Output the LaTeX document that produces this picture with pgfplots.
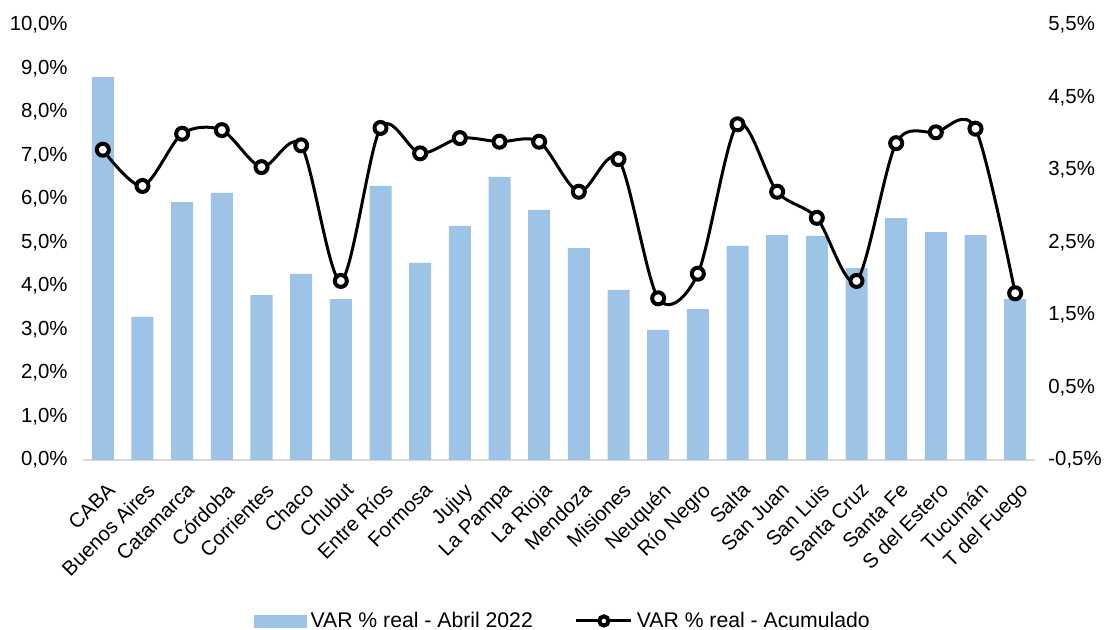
\documentclass[border=0pt]{standalone}
\usepackage{fontspec}
\setmainfont{Liberation Sans}
\usepackage{pgfplots}
\pgfplotsset{compat=1.18}
\definecolor{barblue}{RGB}{157,195,230}
\definecolor{axgray}{RGB}{217,217,217}
\pgfplotsset{
  mylineleg/.style={legend image code/.code={\draw[mark repeat=2,mark phase=2,##1, mark size=2.3pt] plot coordinates {(0pt,0pt) (13.75pt,0pt) (27.5pt,0pt)};}},
  mybarleg/.style={legend image code/.code={\fill[barblue] (0pt,-3pt) rectangle (26pt,3pt);}}
}
\pgfplotstableread{
x bar line
0 8.80 3.78
1 3.29 3.28
2 5.93 4.00
3 6.14 4.05
4 3.79 3.54
5 4.28 3.84
6 3.70 1.97
7 6.30 4.08
8 4.53 3.73
9 5.38 3.94
10 6.51 3.89
11 5.75 3.89
12 4.87 3.20
13 3.91 3.65
14 2.99 1.73
15 3.47 2.07
16 4.92 4.13
17 5.17 3.20
18 5.15 2.84
19 4.41 1.97
20 5.56 3.87
21 5.24 4.02
22 5.17 4.07
23 3.70 1.80
}\datatable
\begin{document}
\fontsize{10}{12}\selectfont
\begin{tikzpicture}
\begin{axis}[
  scale only axis, width=476pt, height=217.5pt,
  at={(0pt,0pt)}, anchor=south west,
  xmin=-0.5, xmax=23.5, ymin=0, ymax=10,
  axis y line*=left, axis x line*=bottom,
  y axis line style={draw=none},
  x axis line style={draw=axgray, line width=0.75pt, -},
  tick style={draw=none}, major tick length=0pt,
  ytick={0,1,2,3,4,5,6,7,8,9,10},
  yticklabels={{0,0\%},{1,0\%},{2,0\%},{3,0\%},{4,0\%},{5,0\%},{6,0\%},{7,0\%},{8,0\%},{9,0\%},{10,0\%}},
  yticklabel style={font=\fontsize{10.2}{12}\selectfont, inner sep=0pt, xshift=-7.5pt},
  xtick={0,...,23},
  xticklabels={CABA,Buenos Aires,Catamarca,Córdoba,Corrientes,Chaco,Chubut,Entre Ríos,Formosa,Jujuy,La Pampa,La Rioja,Mendoza,Misiones,Neuquén,Río Negro,Salta,San Juan,San Luis,Santa Cruz,Santa Fe,S del Estero,Tucumán,T del Fuego},
  xticklabel style={font=\fontsize{10.2}{12}\selectfont, rotate=45, anchor=north east, inner sep=0pt, xshift=-6.2pt, yshift=-8.5pt},
]
\addplot[ybar, bar width=11pt, fill=barblue, draw=none] table[x=x, y=bar] {\datatable};
\end{axis}
\begin{axis}[
  scale only axis, width=476pt, height=217.5pt,
  at={(0pt,0pt)}, anchor=south west,
  xmin=-0.5, xmax=23.5, ymin=-0.5, ymax=5.5,
  axis y line*=right, axis x line=none,
  y axis line style={draw=none},
  tick style={draw=none}, major tick length=0pt,
  ytick={-0.5,0.5,1.5,2.5,3.5,4.5,5.5},
  yticklabels={{-0,5\%},{0,5\%},{1,5\%},{2,5\%},{3,5\%},{4,5\%},{5,5\%}},
  yticklabel style={font=\fontsize{10.2}{12}\selectfont, inner sep=0pt, xshift=6.5pt},
  legend style={at={(0.505,-0.37)}, anchor=center, draw=none, fill=none,
    legend columns=2, font=\fontsize{10.6}{12}\selectfont,
    /tikz/every even column/.append style={column sep=19pt}},
]
\addlegendimage{mybarleg}
\addlegendentry{VAR \% real - Abril 2022}
\addplot[black, line width=1.5pt, smooth, mark=*, mark size=3pt,
  mark options={fill=white, draw=black, line width=2pt}, mylineleg]
  table[x=x, y=line] {\datatable};
\addlegendentry{VAR \% real - Acumulado}
\end{axis}
\pgfresetboundingbox
\path (-41.5pt,-85pt) rectangle (516pt,230pt);
\end{tikzpicture}
\end{document}
